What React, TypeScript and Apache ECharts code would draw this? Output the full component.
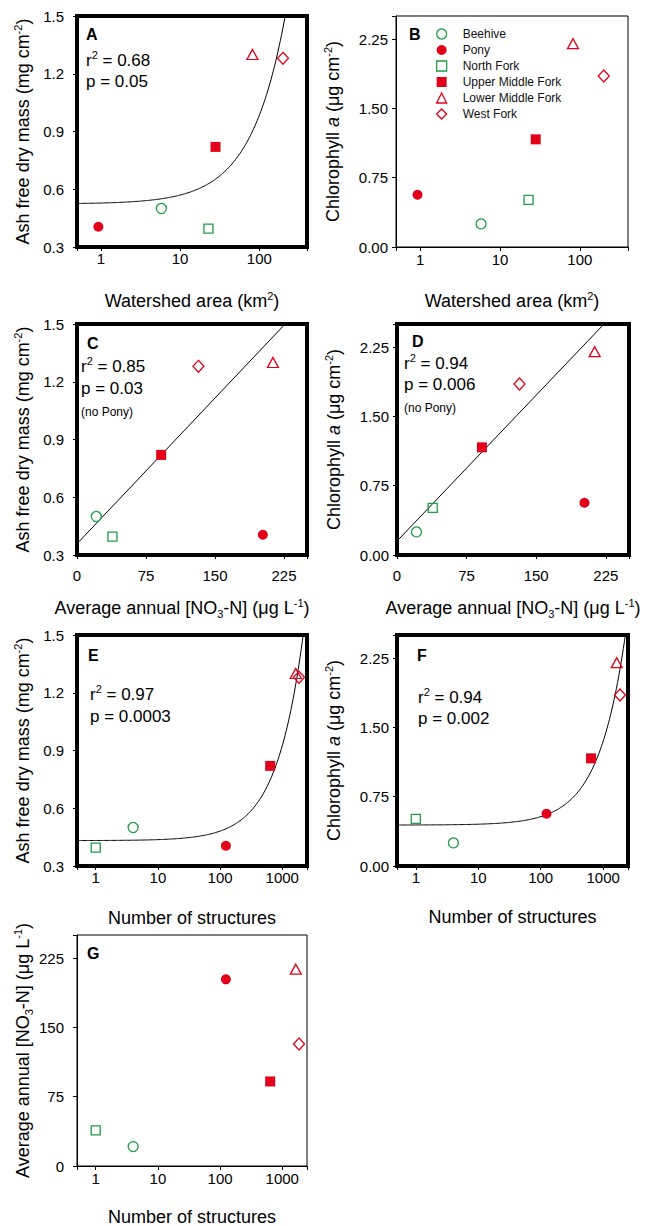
import React, { useEffect, useRef } from 'react';
import * as echarts from 'echarts';

// Study reaches, in the order used by every value array below
const SITES = ['Beehive', 'Pony', 'North Fork', 'Upper Middle Fork', 'Lower Middle Fork', 'West Fork'];

const WATERSHED_AREA = [5.8, 0.93, 22.8, 28, 82, 199]; // km²
const STRUCTURE_COUNT = [4, 124, 1, 640, 1650, 1860]; // number of structures
const NITRATE = [21, 202, 38.5, 91.5, 213, 132]; // µg L⁻¹ NO3-N
const AFDM = [0.5, 0.405, 0.395, 0.82, 1.3, 1.28]; // mg cm⁻²
const CHL_A = [0.25, 0.565, 0.51, 1.165, 2.2, 1.85]; // µg cm⁻²

// Regression statistics printed inside the panels
const R2_LABELS: Record<string, string> = { A: '0.68', C: '0.85', D: '0.94', E: '0.97', F: '0.94' };
const P_LABELS: Record<string, string> = { A: '0.05', C: '0.03', D: '0.006', E: '0.0003', F: '0.002' };

// Axis extents and tick steps
const AFDM_RANGE = [0.3, 1.5];
const AFDM_STEP = 0.3;
const CHL_RANGE = [0, 2.5];
const CHL_STEP = 0.75;
const NITRATE_RANGE = [0, 250];
const NITRATE_STEP = 75;
const AREA_RANGE = [0.5, 400];
const STRUCTURE_RANGE = [0.5, 2500];

const FONT = "'Liberation Sans', Arial, Helvetica, sans-serif";
const GREEN = '#1f9d47';
const RED = '#e2001b';

const SITE_COLOR = [GREEN, RED, GREEN, RED, RED, RED];
const SITE_FILLED = [false, true, false, true, false, false];
const SITE_SYMBOL = ['circle', 'circle', 'rect', 'rect', 'triangle', 'diamond'];
const SITE_SIZE: (number | number[])[] = [10, 10, 9, 10, [11, 10], [11, 12]];

type Kind = 'area' | 'structures' | 'nitrate' | 'afdm' | 'chl';

const VALUES: Record<Kind, number[]> = {
  area: WATERSHED_AREA,
  structures: STRUCTURE_COUNT,
  nitrate: NITRATE,
  afdm: AFDM,
  chl: CHL_A,
};

const NAMES: Record<Kind, string> = {
  area: '{n|Watershed area (km}{sup|2}{n|)}',
  structures: '{n|Number of structures}',
  nitrate: '{n|Average annual [NO}{sub|3}{n|-N] (\u03bcg L}{sup|-1}{n|)}',
  afdm: '{n|Ash free dry mass (mg cm}{sup|-2}{n|)}',
  chl: '{n|Chlorophyll }{i|a}{n| (\u03bcg cm}{sup|-2}{n|)}',
};

const NAME_RICH = {
  n: { fontSize: 18, lineHeight: 22, fontFamily: FONT, color: '#000' },
  i: { fontSize: 18, lineHeight: 22, fontStyle: 'italic', fontFamily: FONT, color: '#000' },
  sup: { fontSize: 11, lineHeight: 14, verticalAlign: 'top', fontFamily: FONT, color: '#000' },
  sub: { fontSize: 11, lineHeight: 12, verticalAlign: 'bottom', fontFamily: FONT, color: '#000' },
};

const NOTE_RICH = {
  n: { fontSize: 17, lineHeight: 22, fontFamily: FONT, color: '#000' },
  sup: { fontSize: 11, lineHeight: 14, verticalAlign: 'top', fontFamily: FONT, color: '#000' },
  b: { fontSize: 16, lineHeight: 20, fontWeight: 'bold', fontFamily: FONT, color: '#000' },
};

interface Panel {
  id: string;
  x: Kind;
  y: Kind;
  rect: [number, number, number, number]; // left, top, width, height
  frame: number;
  fit: boolean;
  fitSkip: number[];
  xLabelMargin: number;
  yLabelMargin: number;
  xNameGap: number;
  yNameGap: number;
  xNameShift?: number;
  letter: [number, number];
  stats?: [number, number, number];
  note?: [number, number];
}

const PANELS: Panel[] = [
  { id: 'A', x: 'area', y: 'afdm', rect: [77, 16, 230, 231], frame: 4, fit: true, fitSkip: [],
    xLabelMargin: 4, yLabelMargin: 13, xNameGap: 43, yNameGap: 43, letter: [86, 34], stats: [86, 60, 81] },
  { id: 'B', x: 'area', y: 'chl', rect: [396, 16, 232, 231], frame: 1, fit: false, fitSkip: [],
    xLabelMargin: 5, yLabelMargin: 8, xNameGap: 43, yNameGap: 52, letter: [409, 34] },
  { id: 'C', x: 'nitrate', y: 'afdm', rect: [77, 324, 230, 231], frame: 4, fit: true, fitSkip: [1],
    xLabelMargin: 13, yLabelMargin: 13, xNameGap: 42, yNameGap: 43, xNameShift: 10,
    letter: [87, 343], stats: [81, 366, 388], note: [81, 412] },
  { id: 'D', x: 'nitrate', y: 'chl', rect: [397, 324, 232, 231], frame: 4, fit: true, fitSkip: [1],
    xLabelMargin: 13, yLabelMargin: 8, xNameGap: 42, yNameGap: 52,
    letter: [412, 341], stats: [404, 363, 384], note: [404, 408] },
  { id: 'E', x: 'structures', y: 'afdm', rect: [77, 635, 230, 231], frame: 4, fit: true, fitSkip: [],
    xLabelMargin: 4, yLabelMargin: 13, xNameGap: 41, yNameGap: 43,
    letter: [88, 655], stats: [90, 694, 716] },
  { id: 'F', x: 'structures', y: 'chl', rect: [397, 635, 231, 231], frame: 4, fit: true, fitSkip: [],
    xLabelMargin: 4, yLabelMargin: 8, xNameGap: 40, yNameGap: 52,
    letter: [417, 655], stats: [418, 697, 718] },
  { id: 'G', x: 'structures', y: 'nitrate', rect: [77, 935, 230, 231], frame: 1, fit: false, fitSkip: [],
    xLabelMargin: 5, yLabelMargin: 13, xNameGap: 40, yNameGap: 43, letter: [87, 953] },
];

const isPow10 = (v: number) => {
  const l = Math.log10(v);
  return Math.abs(l - Math.round(l)) < 1e-6;
};

const onStep = (v: number, min: number, step: number) => {
  const k = (v - min) / step;
  return Math.abs(k - Math.round(k)) < 1e-6;
};

function isLog(kind: Kind) {
  return kind === 'area' || kind === 'structures';
}

function rangeOf(kind: Kind): number[] {
  switch (kind) {
    case 'area': return AREA_RANGE;
    case 'structures': return STRUCTURE_RANGE;
    case 'nitrate': return NITRATE_RANGE;
    case 'afdm': return AFDM_RANGE;
    default: return CHL_RANGE;
  }
}

function stepOf(kind: Kind) {
  if (kind === 'nitrate') return { step: NITRATE_STEP, dec: 0 };
  if (kind === 'afdm') return { step: AFDM_STEP, dec: 1 };
  return { step: CHL_STEP, dec: 2 };
}

function buildAxis(kind: Kind, gridIndex: number, dim: 'x' | 'y', margin: number, nameGap: number, shift = 0) {
  const common: any = {
    gridIndex,
    name: NAMES[kind],
    nameLocation: 'middle',
    nameGap,
    nameRotate: dim === 'y' ? 90 : 0,
    nameMoveOverlap: false,
    nameTextStyle: { rich: NAME_RICH, padding: shift ? [0, shift * 2, 0, 0] : 0 },
    axisLine: { show: true, onZero: false, lineStyle: { color: '#000', width: 1 } },
    axisTick: { show: true, inside: false, length: 4, lineStyle: { color: '#000', width: 1 } },
    splitLine: { show: false },
    minorTick: { show: false },
    minorSplitLine: { show: false },
  };
  const labelStyle = { fontSize: 15, fontFamily: FONT, color: '#000', margin };
  const [min, max] = rangeOf(kind);
  if (isLog(kind)) {
    return {
      ...common,
      type: 'log',
      logBase: 10,
      min,
      max,
      axisLabel: { ...labelStyle, formatter: (v: number) => (isPow10(v) ? String(Math.round(v)) : '') },
    };
  }
  const { step, dec } = stepOf(kind);
  return {
    ...common,
    type: 'value',
    min,
    max,
    interval: step,
    axisLabel: { ...labelStyle, formatter: (v: number) => (onStep(v, min, step) ? v.toFixed(dec) : '') },
  };
}

// Ordinary least-squares line y = a + b·x
function linearFit(xs: number[], ys: number[]) {
  const n = xs.length;
  const mx = xs.reduce((s, v) => s + v, 0) / n;
  const my = ys.reduce((s, v) => s + v, 0) / n;
  let sxy = 0;
  let sxx = 0;
  for (let i = 0; i < n; i++) {
    sxy += (xs[i] - mx) * (ys[i] - my);
    sxx += (xs[i] - mx) * (xs[i] - mx);
  }
  const b = sxy / sxx;
  return { a: my - b * mx, b };
}

function fitSeries(p: Panel, gi: number) {
  const xs = VALUES[p.x].filter((_, i) => !p.fitSkip.includes(i));
  const ys = VALUES[p.y].filter((_, i) => !p.fitSkip.includes(i));
  const { a, b } = linearFit(xs, ys);
  const [lo, hi] = rangeOf(p.x);
  let data: number[][];
  if (isLog(p.x)) {
    // the straight fit bends on a logarithmic axis, so trace it finely
    const n = 200;
    data = Array.from({ length: n }, (_, k) => {
      const x = lo * Math.pow(hi / lo, k / (n - 1));
      return [x, a + b * x];
    });
  } else {
    data = [[lo, a + b * lo], [hi, a + b * hi]];
  }
  return {
    type: 'line',
    xAxisIndex: gi,
    yAxisIndex: gi,
    data,
    symbol: 'none',
    showSymbol: false,
    clip: true,
    silent: true,
    z: 1,
    lineStyle: { color: '#000', width: 1 },
  };
}

function siteStyle(i: number) {
  const filled = SITE_FILLED[i];
  return {
    color: filled ? SITE_COLOR[i] : 'rgba(255,255,255,0)',
    borderColor: SITE_COLOR[i],
    borderWidth: filled ? 0 : 1.3,
    opacity: 1,
  };
}

function buildOption() {
  const grid: any[] = [];
  const xAxis: any[] = [];
  const yAxis: any[] = [];
  const series: any[] = [];
  const graphic: any[] = [];

  PANELS.forEach((p, gi) => {
    const [left, top, width, height] = p.rect;
    grid.push({
      left, top, width, height,
      containLabel: false,
      outerBoundsMode: 'none',
      show: true,
      borderColor: '#000',
      borderWidth: p.frame,
      backgroundColor: 'transparent',
    });
    xAxis.push(buildAxis(p.x, gi, 'x', p.xLabelMargin, p.xNameGap, p.xNameShift || 0));
    yAxis.push(buildAxis(p.y, gi, 'y', p.yLabelMargin, p.yNameGap));

    if (p.fit) series.push(fitSeries(p, gi));

    SITES.forEach((name, i) => {
      series.push({
        type: 'scatter',
        name,
        xAxisIndex: gi,
        yAxisIndex: gi,
        data: [[VALUES[p.x][i], VALUES[p.y][i]]],
        symbol: SITE_SYMBOL[i],
        symbolSize: SITE_SIZE[i],
        itemStyle: siteStyle(i),
        z: 3,
        silent: true,
      });
    });

    // panel letter
    graphic.push({
      type: 'text',
      x: p.letter[0],
      y: p.letter[1],
      style: { text: `{b|${p.id}}`, rich: NOTE_RICH, align: 'left', verticalAlign: 'middle' },
    });
    if (p.stats) {
      graphic.push({
        type: 'text',
        x: p.stats[0],
        y: p.stats[1],
        style: { text: `{n|r}{sup|2}{n| = ${R2_LABELS[p.id]}}`, rich: NOTE_RICH, align: 'left', verticalAlign: 'middle' },
      });
      graphic.push({
        type: 'text',
        x: p.stats[0],
        y: p.stats[2],
        style: { text: `{n|p = ${P_LABELS[p.id]}}`, rich: NOTE_RICH, align: 'left', verticalAlign: 'middle' },
      });
    }
    if (p.note) {
      graphic.push({
        type: 'text',
        x: p.note[0],
        y: p.note[1],
        style: {
          text: '(no Pony)',
          fontSize: 12,
          fontFamily: FONT,
          fill: '#000',
          align: 'left',
          verticalAlign: 'middle',
        },
      });
    }
  });

  return {
    animation: false,
    backgroundColor: '#fff',
    textStyle: { fontFamily: FONT },
    grid,
    xAxis,
    yAxis,
    series,
    graphic,
    legend: {
      show: true,
      orient: 'vertical',
      left: 436,
      top: 28,
      padding: 0,
      itemWidth: 10,
      itemHeight: 10,
      itemGap: 4,
      selectedMode: false,
      textStyle: { fontSize: 12, fontFamily: FONT, color: '#111', padding: [0, 0, 0, 11] },
      data: SITES.map((name, i) => ({ name, icon: SITE_SYMBOL[i], itemStyle: siteStyle(i) })),
    },
  };
}

export default function App() {
  const ref = useRef<HTMLDivElement>(null);
  useEffect(() => {
    if (!ref.current) return;
    const chart = echarts.init(ref.current, undefined, { renderer: 'svg' });
    chart.setOption(buildOption() as any);
    return () => chart.dispose();
  }, []);
  return (
    <div
      ref={ref}
      style={{ position: 'absolute', left: 0, top: 0, width: 650, height: 1226, background: '#fff' }}
    />
  );
}
